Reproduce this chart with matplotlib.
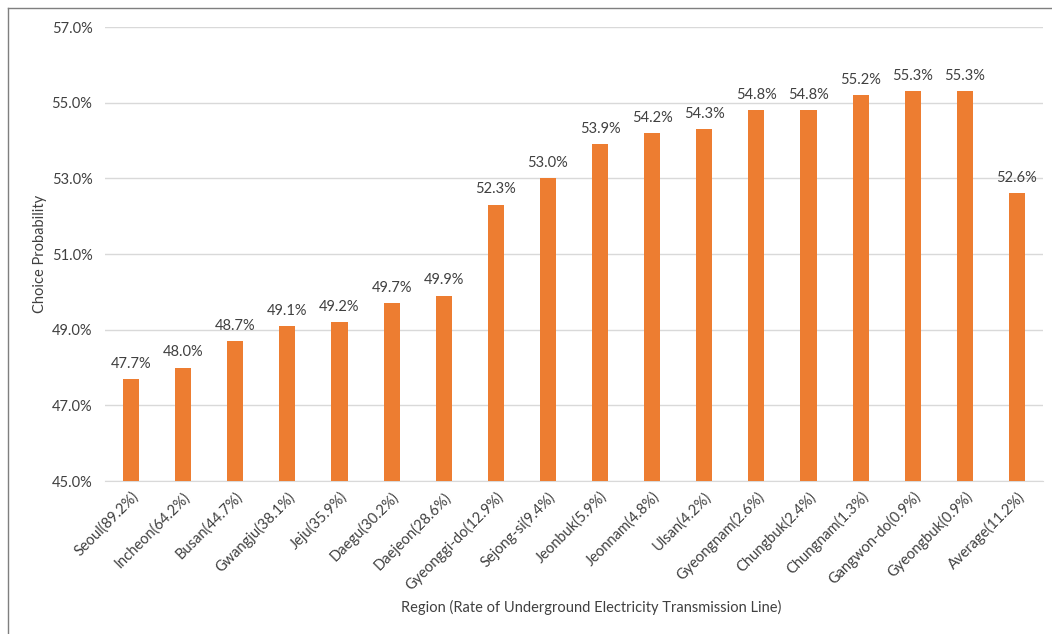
import numpy as np
import matplotlib.pyplot as plt
from matplotlib.lines import Line2D

regions = ['Seoul(89.2%)', 'Incheon(64.2%)', 'Busan(44.7%)', 'Gwangju(38.1%)',
           'Jeju(35.9%)', 'Daegu(30.2%)', 'Daejeon(28.6%)', 'Gyeonggi-do(12.9%)',
           'Sejong-si(9.4%)', 'Jeonbuk(5.9%)', 'Jeonnam(4.8%)', 'Ulsan(4.2%)',
           'Gyeongnam(2.6%)', 'Chungbuk(2.4%)', 'Chungnam(1.3%)', 'Gangwon-do(0.9%)',
           'Gyeongbuk(0.9%)', 'Average(11.2%)']
probs = [47.7, 48.0, 48.7, 49.1, 49.2, 49.7, 49.9, 52.3, 53.0, 53.9,
         54.2, 54.3, 54.8, 54.8, 55.2, 55.3, 55.3, 52.6]
yticks = [45, 47, 49, 51, 53, 55, 57]

plt.rcParams['font.family'] = ['Lato', 'DejaVu Sans']
txt = '#404040'
bar_color = '#ED7D31'

fig = plt.figure(figsize=(10.52, 6.34), dpi=100)
ax = fig.add_axes([105 / 1052, 1 - 481 / 634, 938 / 1052, 454 / 634])

x = np.arange(len(regions))
ax.bar(x, [p - 45 for p in probs], bottom=45, width=0.31, color=bar_color, zorder=3)
for xi, p in zip(x, probs):
    ax.annotate(f'{p:.1f}%', (xi, p), xytext=(0, 6), textcoords='offset points',
                ha='center', va='bottom', fontsize=10.5, color=txt)

ax.set_xlim(-0.5, len(regions) - 0.5)
ax.set_ylim(45, 57)
ax.set_yticks(yticks)
ax.set_yticklabels([f'{t:.1f}%' for t in yticks], fontsize=10.5, color=txt)
ax.grid(axis='y', color='#D9D9D9', linewidth=1, zorder=0)
ax.set_xticks(x)
ax.set_xticklabels(regions, rotation=45, ha='right', rotation_mode='anchor',
                   fontsize=10.5, color=txt)
ax.tick_params(axis='both', length=0)
ax.tick_params(axis='y', pad=9)
ax.tick_params(axis='x', pad=6)
for s in ['top', 'right', 'left']:
    ax.spines[s].set_visible(False)
ax.spines['bottom'].set_color('#D9D9D9')

fig.text(591 / 1052, 1 - 607 / 634, 'Region (Rate of Underground Electricity Transmission Line)',
         ha='center', va='center', fontsize=10.5, color=txt)
fig.text(40 / 1052, 1 - 254 / 634, 'Choice Probability', rotation=90,
         ha='center', va='center', fontsize=10.5, color=txt)

# outer frame (left and top edges)
fig.add_artist(Line2D([8 / 1052, 8 / 1052], [0, 1 - 8 / 634], transform=fig.transFigure,
                      color='#7F7F7F', linewidth=1))
fig.add_artist(Line2D([8 / 1052, 1], [1 - 8 / 634, 1 - 8 / 634], transform=fig.transFigure,
                      color='#7F7F7F', linewidth=1))

fig.savefig('out.png', dpi=100)
